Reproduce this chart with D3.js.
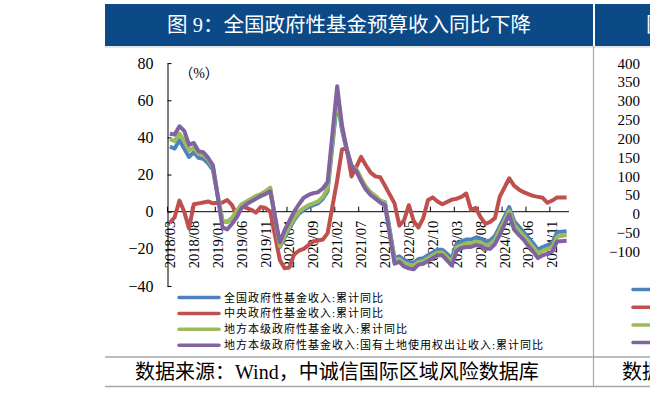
<!DOCTYPE html>
<html>
<head>
<meta charset="utf-8">
<script src="https://cdn.jsdelivr.net/npm/d3@7"></script>
<style>
  body { margin: 0; background: #fff; }
  svg { display: block; }
  text { font-family: "Liberation Serif", "Noto Sans CJK SC", serif; }
</style>
</head>
<body>
<div id="chart"></div>
<script>
//Colores
const COLOR_BAR = '#0b4a87',
COLOR_RULE = '#a8a8a8',
COLOR_BLUE = '#4F81BD',
COLOR_RED = '#C0504D',
COLOR_GREEN = '#9BBB59',
COLOR_PURPLE = '#8064A2';

//Meses (categorias del eje X)
const months = [
  '2018/03','2018/04','2018/05','2018/06','2018/07','2018/08','2018/09','2018/10','2018/11','2018/12',
  '2019/01','2019/02','2019/03','2019/04','2019/05','2019/06','2019/07','2019/08','2019/09','2019/10','2019/11','2019/12',
  '2020/01','2020/02','2020/03','2020/04','2020/05','2020/06','2020/07','2020/08','2020/09','2020/10','2020/11','2020/12',
  '2021/01','2021/02','2021/03','2021/04','2021/05','2021/06','2021/07','2021/08','2021/09','2021/10','2021/11','2021/12',
  '2022/01','2022/02','2022/03','2022/04','2022/05','2022/06','2022/07','2022/08','2022/09','2022/10','2022/11','2022/12',
  '2023/01','2023/02','2023/03','2023/04','2023/05','2023/06','2023/07','2023/08','2023/09','2023/10','2023/11','2023/12',
  '2024/01','2024/02','2024/03','2024/04','2024/05','2024/06','2024/07','2024/08','2024/09','2024/10','2024/11','2024/12',
  '2025/01','2025/02'
];

//Etiquetas del eje X
const xTickLabels = ['2018/03','2018/08','2019/01','2019/06','2019/11','2020/04','2020/09','2021/02','2021/07',
  '2021/12','2022/05','2022/10','2023/03','2023/08','2024/01','2024/06','2024/11'];
const yTicks = [-40, -20, 0, 20, 40, 60, 80];
const yTicksRight = [-100, -50, 0, 50, 100, 150, 200, 250, 300, 350, 400];

//Series (累计同比, %), enero sin dato
const quanguo = [
  35, 34, 38.5, 34, 29.5, 32, 29, 28.5, 26, 22.5,
  null, -5, -5.5, -3.5, 0, 3, 4.5, 6, 7.5, 8.5, 10, 12,
  null, -19, -14, -9, -4.5, -1, 1, 2.5, 3.5, 4.5, 7, 11,
  null, 60, 44, 33, 24, 22, 17, 12.5, 10, 8, 6, 5,
  null, -25, -24, -26, -27, -27.5, -25.5, -25, -23.5, -22, -20.5, -20.5,
  null, -25, -17, -16, -15, -15, -14, -14.5, -16, -15.5, -13, -8,
  null, 2.5, -5, -8, -11, -14, -17, -20.5, -19, -18, -17, -11,
  null, -10.5
];
const zhongyang = [
  -6, -3, 6, 0, -9, 4, 4.5, 5, 5.5, 4.5,
  null, 5, 6.3, 3.5, -2, 3, 2, 1, -0.5, 2.5, 2, 0,
  null, -26, -30.5, -30, -23, -21, -20, -18, -16, -15.5, -15, -11.5,
  null, 17, 33.5, 34, 19, 24, 29.5, 25, 21, 19, 18.5, 14,
  null, 4.5, -7.5, -4.5, 3.5, -5, -8.5, -3.5, 6.3, 7.7, 5.5, 4,
  null, 6.5, 7, 8, 9.8, 1, 2, -3, -6.5, -5.5, -3.5, 8,
  null, 18, 14, 12, 10.5, 9.5, 8.5, 8, 7.5, 4.8, 6, 7.7,
  null, 7.7
];
const difang = [
  39, 38, 42, 38, 33, 34.5, 31, 30.5, 28, 24,
  null, -5, -5.5, -3.5, 0.5, 4, 5.5, 7, 8.5, 9.5, 11, 13,
  null, -18.5, -13, -8, -3.5, 0, 2, 3.5, 4.5, 5.5, 8, 12.5,
  null, 63, 45, 34, 25, 23, 18, 13.5, 10.5, 8.5, 6, 4.5,
  null, -26, -25.5, -27.5, -28.5, -29, -27, -26.5, -25, -23.5, -22, -22,
  null, -27, -19, -18, -17, -17, -16, -16.5, -18, -17.5, -15, -10,
  null, 0.5, -7, -10, -13, -16, -19, -22.5, -21, -20, -19, -13.5,
  null, -12.5
];
const tudi = [
  42, 41.5, 46, 43.5, 36, 37, 32.5, 32, 29, 25,
  null, -8.5, -9.5, -6.5, -3, 2, 4, 5.5, 7, 8.5, 9.5, 11,
  null, -16.5, -10, -5, 0, 4, 7.5, 9, 10, 10.5, 12.5, 16,
  null, 67.5, 46.5, 33.5, 24.5, 22, 16.5, 12, 9, 7, 5, 3.5,
  null, -28, -27, -29.5, -30.5, -31, -28.5, -28, -26.5, -25, -23.5, -23.5,
  null, -29, -21, -19.5, -19, -19, -18, -18.5, -20, -20, -17.5, -12.5,
  null, -1.5, -9.5, -12.5, -15, -18.5, -21.5, -25, -23.5, -22.5, -21.5, -16,
  null, -15.7
];

const seriesNames = [
  '全国政府性基金收入:累计同比',
  '中央政府性基金收入:累计同比',
  '地方本级政府性基金收入:累计同比',
  '地方本级政府性基金收入:国有土地使用权出让收入:累计同比'
];
const seriesValues = [quanguo, zhongyang, difang, tudi];
const seriesColors = [COLOR_BLUE, COLOR_RED, COLOR_GREEN, COLOR_PURPLE];

let width = 650, height = 394;

let svg = d3.select('#chart')
  .append('svg')
    .attr('width', width)
    .attr('height', height);

//Cabecera
svg.append('rect').attr('x', 105).attr('y', 4).attr('width', 488).attr('height', 42).attr('fill', COLOR_BAR);
svg.append('rect').attr('x', 595).attr('y', 4).attr('width', 55).attr('height', 42).attr('fill', COLOR_BAR);
svg.append('text')
  .attr('x', 349).attr('y', 32)
  .attr('text-anchor', 'middle')
  .attr('fill', '#fff')
  .style('font-size', '20.5px')
  .text('图 9：全国政府性基金预算收入同比下降');
svg.append('text')
  .attr('x', 646).attr('y', 32)
  .attr('fill', '#fff')
  .style('font-size', '20.5px')
  .text('图 10：');

//Lineas del marco
svg.append('line').attr('x1', 105).attr('x2', 650).attr('y1', 47).attr('y2', 47)
  .attr('stroke', '#d0d0d0').attr('stroke-width', 1);
svg.append('line').attr('x1', 593.5).attr('x2', 593.5).attr('y1', 46).attr('y2', 387)
  .attr('stroke', COLOR_RULE).attr('stroke-width', 1.2);
svg.append('line').attr('x1', 105).attr('x2', 650).attr('y1', 357).attr('y2', 357)
  .attr('stroke', COLOR_RULE).attr('stroke-width', 1.5);
svg.append('line').attr('x1', 105).attr('x2', 650).attr('y1', 386.5).attr('y2', 386.5)
  .attr('stroke', COLOR_RULE).attr('stroke-width', 1.5);

//Escalas
let x = d3.scaleBand()
  .domain(months)
  .range([167.5, 569]);

let y = d3.scaleLinear()
  .domain([-40, 80])
  .range([286, 63.1]);

let g = svg.append('g');

//Eje Y
let yAxis = g.append('g')
  .attr('transform', 'translate(167.5,0)')
  .call(d3.axisLeft(y).tickValues(yTicks).tickSizeInner(-4).tickSizeOuter(0).tickPadding(14));
yAxis.select('.domain').attr('stroke', '#000');
yAxis.selectAll('.tick line').attr('stroke', '#000');
yAxis.selectAll('.tick text')
  .attr('fill', '#000')
  .style('font-size', '16px')
  .style('font-family', '"Liberation Serif", serif');

g.append('text')
  .attr('x', 199).attr('y', 78)
  .attr('text-anchor', 'middle')
  .style('font-size', '14px')
  .text('（%）');

//Eje X
let y0 = y(0);
g.append('line')
  .attr('x1', x.range()[0]).attr('x2', x.range()[1])
  .attr('y1', y0).attr('y2', y0)
  .attr('stroke', '#000');

g.selectAll('.xtick')
  .data(xTickLabels)
  .enter()
  .append('line')
    .attr('class', 'xtick')
    .attr('x1', d => x(d)).attr('x2', d => x(d))
    .attr('y1', y0 - 5).attr('y2', y0)
    .attr('stroke', '#000');

g.selectAll('.xlabel')
  .data(xTickLabels)
  .enter()
  .append('text')
    .attr('class', 'xlabel')
    .attr('transform', d => 'translate(' + (x(d) + x.bandwidth() / 2) + ',' + (y0 + 9) + ') rotate(-90)')
    .attr('text-anchor', 'end')
    .attr('dy', '0.35em')
    .style('font-size', '14.5px')
    .style('font-family', '"Liberation Serif", serif')
    .text(d => d);

//Lineas
let line = d3.line()
  .x(d => x(d.month) + x.bandwidth() / 2)
  .y(d => y(d.value));

seriesValues.forEach(function(values, i) {
  let data = months.map((m, j) => ({ month: m, value: values[j] }))
    .filter(d => d.value != null);
  g.append('path')
    .datum(data)
    .attr('fill', 'none')
    .attr('stroke', seriesColors[i])
    .attr('stroke-width', 4)
    .attr('stroke-linejoin', 'round')
    .attr('d', line);
});

//Leyenda
let legend = g.selectAll('.legend')
  .data(seriesNames)
  .enter()
  .append('g')
    .attr('class', 'legend')
    .attr('transform', (d, i) => 'translate(179,' + (297.5 + i * 15.9) + ')');
legend.append('line')
  .attr('x1', 0).attr('x2', 40)
  .attr('stroke', (d, i) => seriesColors[i])
  .attr('stroke-width', 3.5)
  .attr('stroke-linecap', 'round');
legend.append('text')
  .attr('x', 45).attr('y', 4)
  .style('font-size', '11px')
  .style('letter-spacing', '1px')
  .text(d => d);

//Fuente
svg.append('text')
  .attr('x', 135).attr('y', 379)
  .style('font-size', '20px')
  .text('数据来源：Wind，中诚信国际区域风险数据库');
svg.append('text')
  .attr('x', 622).attr('y', 379)
  .style('font-size', '20px')
  .text('数据来源：Wind，中诚信国际区域风险数据库');

//Grafico contiguo (recortado)
let yRight = d3.scaleLinear()
  .domain([-100, 400])
  .range([251.7, 63.3]);
let yRightAxis = svg.append('g')
  .attr('transform', 'translate(655,0)')
  .call(d3.axisLeft(yRight).tickValues(yTicksRight).tickSize(0).tickPadding(15));
yRightAxis.select('.domain').remove();
yRightAxis.selectAll('.tick text')
  .attr('fill', '#000')
  .style('font-size', '15px')
  .style('font-family', '"Liberation Serif", serif');

svg.selectAll('.legend-right')
  .data(seriesColors)
  .enter()
  .append('line')
    .attr('class', 'legend-right')
    .attr('x1', 633).attr('x2', 670)
    .attr('y1', (d, i) => 289.5 + i * 17.7)
    .attr('y2', (d, i) => 289.5 + i * 17.7)
    .attr('stroke', d => d)
    .attr('stroke-width', 3.5)
    .attr('stroke-linecap', 'round');
</script>
</body>
</html>
